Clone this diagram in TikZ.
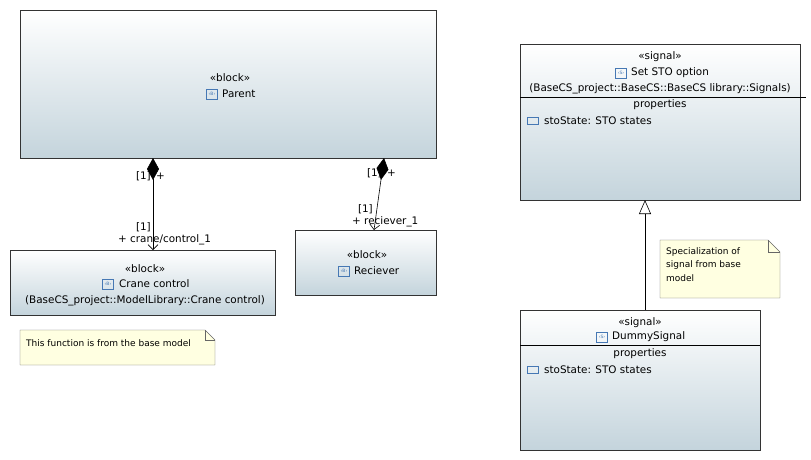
\documentclass[tikz,border=0pt]{standalone}
\usepackage{fontspec}
\setmainfont{DejaVu Sans}
\usetikzlibrary{arrows.meta}
\definecolor{bl}{RGB}{196,212,220}
\definecolor{notey}{RGB}{255,255,225}
\definecolor{ic}{RGB}{70,120,180}
\begin{document}
\begin{tikzpicture}[x=1pt,y=-1pt,font=\fontsize{10.4}{12}\selectfont,
 blk/.style={draw=black!80,top color=white,bottom color=bl,line width=0.8pt},
 note/.style={draw=black!60,fill=notey},
 txt/.style={inner sep=0pt,anchor=center},
 comp/.style={draw,line width=0.6pt,{Diamond[length=22pt,width=12pt,fill=black]}-{Straight Barb[length=5pt]}},
 gen/.style={draw,line width=0.6pt,-{Triangle[open,length=14pt,width=12pt,fill=white]}}]
\useasboundingbox (0,0) rectangle (811,460);
\newcommand{\ico}[3]{\node[draw=ic,line width=0.7pt,inner sep=0pt,minimum width=11pt,minimum height=10pt,font=\fontsize{4.5}{4.5}\selectfont,text=ic] at (#1,#2) {#3};}
% Parent
\draw[blk] (20,10) rectangle (436,158);
\node[coordinate] (parentL) at (153,158) {};
\node[coordinate] (parentR) at (384,158) {};
\node[txt] (p1) at (230,78) {«block»};
\ico{212}{94}{‹B›}
\node[txt,anchor=west] (p2) at (222,94) {Parent};
% Crane control
\draw[blk] (10,250) rectangle (275,315);
\node[coordinate] (craneT) at (153,250) {};
\node[txt] (c1) at (145,269) {«block»};
\ico{108}{284}{‹B›}
\node[txt,anchor=west] (c2) at (119,284) {Crane control};
\node[txt] (c3) at (145,301) {(BaseCS\_project::ModelLibrary::Crane control)};
% Reciever
\draw[blk] (295,230) rectangle (436,295);
\node[coordinate] (recT) at (374,230) {};
\node[txt] (r1) at (367,255) {«block»};
\ico{344}{271}{‹B›}
\node[txt,anchor=west] (r2) at (354,271) {Reciever};
% Set STO option
\draw[blk] (520,44) rectangle (800,200);
\draw[line width=0.6pt] (520,97) -- (806,97);
\node[txt] (s1) at (660,57) {«signal»};
\ico{621}{73}{‹S›}
\node[txt,anchor=west] (s2) at (631,73) {Set STO option};
\node[txt] (s3) at (660,89) {(BaseCS\_project::BaseCS::BaseCS library::Signals)};
\node[txt] (s4) at (660,105) {properties};
\node[draw=ic,line width=0.7pt,inner sep=0pt,minimum width=11pt,minimum height=7pt] (sic) at (533,121) {};
\node[txt,anchor=west] (s5) at (544,121) {stoState: STO states};
\node[coordinate] (setB) at (645,200) {};
% DummySignal
\draw[blk] (520,310) rectangle (760,450);
\draw[line width=0.6pt] (520,345) -- (760,345);
\node[txt] (d1) at (640,323) {«signal»};
\ico{602}{337}{‹S›}
\node[txt,anchor=west] (d2) at (612,337) {DummySignal};
\node[txt] (d3) at (640,354) {properties};
\node[draw=ic,line width=0.7pt,inner sep=0pt,minimum width=11pt,minimum height=7pt] (dic) at (533,370) {};
\node[txt,anchor=west] (d5) at (544,370) {stoState: STO states};
\node[coordinate] (dumT) at (645,310) {};
% notes
\draw[note] (20,330) -- (205,330) -- (215,340) -- (215,365) -- (20,365) -- cycle;
\draw[black!60] (205,330) -- (205,340) -- (215,340);
\node[txt,anchor=west,font=\fontsize{9}{10}\selectfont] (n1) at (26,343) {This function is from the base model};
\draw[note] (660,240) -- (768,240) -- (780,252) -- (780,298) -- (660,298) -- cycle;
\draw[black!60] (768,240) -- (768,252) -- (780,252);
\node[anchor=north west,inner sep=0pt,align=left,font=\fontsize{9}{13.5}\selectfont] (n2) at (666,247) {Specialization of\\signal from base\\model};
% connectors
\draw[comp] (parentL) -- (craneT);
\draw[comp] (parentR) -- (recT);
\draw[gen] (dumT) -- (setB);
% labels
\node[txt,anchor=east] (l1) at (151,176) {[1]};
\node[txt,anchor=west] (l2) at (156,176) {+};
\node[txt,anchor=east] (l3) at (382,173) {[1]};
\node[txt,anchor=west] (l4) at (387,173) {+};
\node[txt,anchor=west] (l5) at (118,240) {+ crane/control\_1};
\node[txt,anchor=east] (l6) at (151,227) {[1]};
\node[txt,anchor=west] (l7) at (352,222) {+ reciever\_1};
\node[txt,anchor=east] (l8) at (373,209) {[1]};
\end{tikzpicture}
\end{document}
